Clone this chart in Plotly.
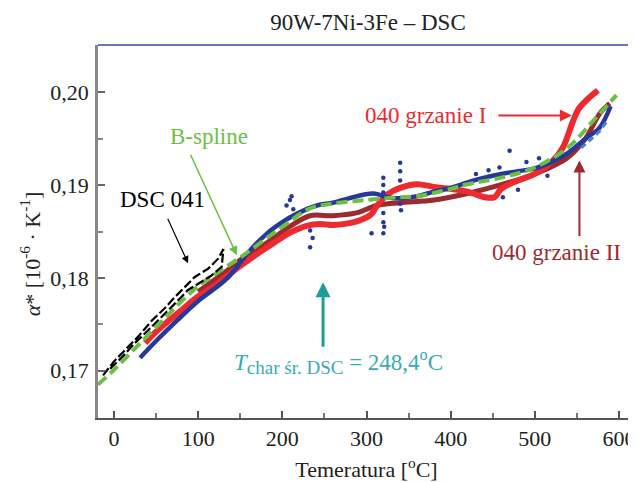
import plotly.graph_objects as go

# ---- data ----
dsc041_x = [-13, 0, 15, 29, 45, 60, 72, 85, 96, 112, 124, 130, 128, 115, 100, 88, 72, 57, 40, 25, 10, -7]
dsc041_y = [0.1695, 0.1710, 0.1724, 0.1737, 0.1754, 0.1767, 0.1779, 0.1791, 0.1801, 0.1810, 0.1821, 0.1831,
            0.1812, 0.1802, 0.1794, 0.1787, 0.1772, 0.1758, 0.1743, 0.1730, 0.1715, 0.1700]

bspline_x = [-19, 0, 50, 100, 150, 200, 233, 260, 300, 340, 360, 400, 420, 460, 500, 540, 570, 597]
bspline_y = [0.1685, 0.1701, 0.1747, 0.1791, 0.1822, 0.1855, 0.1875, 0.1880, 0.1884, 0.1887, 0.1888,
             0.1896, 0.1901, 0.1908, 0.1919, 0.1941, 0.1970, 0.1997]

heat1_x = [37, 50, 76, 100, 120, 150, 182, 210, 229, 245, 260, 280, 292, 305, 312, 325, 340, 360, 380,
           400, 420, 440, 452, 460, 480, 500, 520, 533, 545, 552, 562, 575]
heat1_y = [0.1730, 0.1742, 0.1762, 0.1780, 0.1792, 0.1813, 0.1833, 0.1849, 0.1856, 0.1858, 0.1857, 0.1859,
           0.1862, 0.1868, 0.1877, 0.1890, 0.1897, 0.1901, 0.1898, 0.1896, 0.1893, 0.1887, 0.1887, 0.1896,
           0.1905, 0.1912, 0.1925, 0.1940, 0.1968, 0.1982, 0.1992, 0.2002]

heat2_x = [100, 130, 160, 182, 210, 233, 260, 288, 312, 340, 380, 420, 458, 500, 538, 560, 577, 589]
heat2_y = [0.1785, 0.1805, 0.1826, 0.1838, 0.1856, 0.1867, 0.1867, 0.1870, 0.1878, 0.1881, 0.1884, 0.1891,
           0.1900, 0.1912, 0.1929, 0.1950, 0.1977, 0.1988]

blue_x = [31, 50, 76, 100, 135, 160, 182, 200, 217, 241, 260, 280, 308, 330, 360, 380, 400, 420, 440,
          460, 480, 500, 520, 540, 560, 577, 590]
blue_y = [0.1714, 0.1732, 0.1755, 0.1775, 0.1800, 0.1828, 0.1848, 0.1860, 0.1869, 0.1878, 0.1881, 0.1886,
          0.1891, 0.1886, 0.1888, 0.1893, 0.1897, 0.1903, 0.1908, 0.1912, 0.1915, 0.1918, 0.1925, 0.1935,
          0.1950, 0.1962, 0.1985]

blue_dots_x = [205, 209, 211, 213, 233, 233, 236, 306, 320, 320, 320, 320, 320, 320, 321, 340, 340, 340,
               340, 341, 458, 462, 470, 480, 430, 445, 490, 505, 515]
blue_dots_y = [0.1878, 0.1884, 0.1888, 0.1874, 0.1833, 0.1851, 0.1843, 0.1848, 0.1908, 0.1900, 0.1892,
               0.1870, 0.1860, 0.1848, 0.1855, 0.1924, 0.1915, 0.1905, 0.1880, 0.1873, 0.1919, 0.1887,
               0.1937, 0.1895, 0.1912, 0.1916, 0.1925, 0.1929, 0.1910]

lightblue_x = [555, 565, 577, 585]
lightblue_y = [0.1940, 0.1948, 0.1958, 0.1968]

x_ticks = [0, 100, 200, 300, 400, 500, 600]
y_ticks = [0.17, 0.18, 0.19, 0.20]

FONT = "Liberation Serif"
RED = "#ec2a2f"
DARKRED = "#9b2b2e"
BLUE = "#27389a"
LIGHTBLUE = "#4d7fcf"
GREEN = "#6cbf45"
TEAL = "#1d9c98"
TEALTXT = "#3aaab6"

fig = go.Figure()
fig.add_trace(go.Scatter(x=heat2_x, y=heat2_y, mode="lines", line=dict(color=DARKRED, width=5, shape="spline"),
                         showlegend=False))
fig.add_trace(go.Scatter(x=heat1_x, y=heat1_y, mode="lines", line=dict(color=RED, width=6, shape="spline"),
                         showlegend=False))
fig.add_trace(go.Scatter(x=blue_x, y=blue_y, mode="lines", line=dict(color=BLUE, width=4.5, shape="spline"),
                         showlegend=False))
fig.add_trace(go.Scatter(x=blue_dots_x, y=blue_dots_y, mode="markers",
                         marker=dict(color=BLUE, size=4.5), showlegend=False))
fig.add_trace(go.Scatter(x=lightblue_x, y=lightblue_y, mode="lines",
                         line=dict(color=LIGHTBLUE, width=3, dash="6px,4px"), showlegend=False))
fig.add_trace(go.Scatter(x=bspline_x, y=bspline_y, mode="lines",
                         line=dict(color=GREEN, width=4, dash="11px,5px", shape="spline"), showlegend=False))
fig.add_trace(go.Scatter(x=dsc041_x, y=dsc041_y, mode="lines",
                         line=dict(color="black", width=2.2, dash="9px,3px"), showlegend=False))

ann = []
def text(t, x, y, color, size=23):
    ann.append(dict(text=t, x=x, y=y, xref="paper", yref="paper", showarrow=False,
                    xanchor="center", yanchor="middle", font=dict(family=FONT, size=size, color=color)))
def arrow(x, y, ax, ay, color, width=1.5, size=1.2):
    ann.append(dict(text="", x=x, y=y, xref="x", yref="y", ax=ax, ay=ay, showarrow=True,
                    arrowhead=2, arrowsize=size, arrowwidth=width, arrowcolor=color))

text("B-spline", 0.2067, 0.7534, GREEN)
text("DSC 041", 0.1192, 0.5871, "black")
text("040 grzanie I", 0.6108, 0.8123, RED)
text("040 grzanie II", 0.8547, 0.4424, DARKRED)
text("<i>T</i><sub><span style='font-size:19px'>char śr. DSC</span></sub> = 248,4<sup>o</sup>C",
     0.4470, 0.150, TEALTXT)
arrow(146, 0.18244, -47, -102, GREEN, 1.5)
arrow(88, 0.18158, -21, -46, "black", 1.2)
arrow(544, 0.19749, -75, 0, RED, 2)
arrow(553, 0.19266, 0, 77, DARKRED, 2)
arrow(248.4, 0.17954, 0, 66, TEAL, 3, 1)

ann.append(dict(text="<i>α</i>* [10<sup>-6</sup> · K<sup>-1</sup>]", x=-0.126, y=0.44, xref="paper",
                yref="paper", showarrow=False, textangle=-90, xanchor="center", yanchor="middle",
                font=dict(family=FONT, size=22, color="#222")))

# the page places the figure 8 px from the top-left corner, so the figure is 8 px smaller
fig.update_layout(
    width=628, height=474,
    margin=dict(l=90, r=1, t=37, b=64),
    paper_bgcolor="white", plot_bgcolor="white",
    separators=", ",
    title=dict(text="90W-7Ni-3Fe – DSC", x=(368 - 8) / 628, xref="container", xanchor="center",
               y=1 - 14 / 474, yref="container", yanchor="middle",
               font=dict(family=FONT, size=23, color="#222")),
    annotations=ann,
    shapes=[
        dict(type="line", xref="paper", yref="paper", x0=0, x1=1, y0=1, y1=1,
             line=dict(color="#3b4a9e", width=1.5)),
        dict(type="line", xref="paper", yref="paper", x0=1, x1=1, y0=0, y1=1,
             line=dict(color="#b6bdd6", width=1.5)),
    ],
)
fig.update_xaxes(range=[-19, 619], tickvals=x_ticks, showgrid=False, zeroline=False,
                 showline=True, linecolor="#555", linewidth=2,
                 ticks="inside", ticklen=7, tickwidth=2, tickcolor="#555",
                 minor=dict(dtick=50, tick0=0, ticks="inside", ticklen=5, tickwidth=1.5, tickcolor="#777"),
                 tickfont=dict(family=FONT, size=22, color="#222"),
                 title=dict(text="Temeratura [<sup>o</sup>C]", standoff=14,
                            font=dict(family=FONT, size=22, color="#222")))
fig.update_yaxes(range=[0.1649, 0.2051], tickvals=y_ticks, tickformat=".2f", showgrid=False, zeroline=False,
                 showline=True, linecolor="#888", linewidth=2.5,
                 ticks="inside", ticklen=7, tickwidth=2, tickcolor="#666",
                 minor=dict(dtick=0.005, tick0=0.17, ticks="inside", ticklen=5, tickwidth=1.5, tickcolor="#888"),
                 ticklabelstandoff=2,
                 tickfont=dict(family=FONT, size=22, color="#222"))

fig.write_html("out.html")
